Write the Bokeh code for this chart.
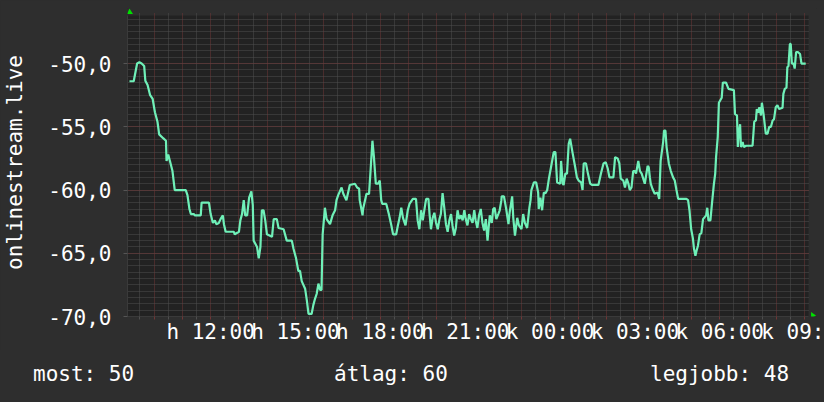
from bokeh.plotting import figure
from bokeh.layouts import column
from bokeh.models import (Range1d, FixedTicker, PolyAnnotation, BoxAnnotation,
                          GlobalInlineStyleSheet, ColumnDataSource, Div)
from bokeh.embed import file_html
from bokeh.resources import INLINE

# ---- data (hours since Monday 00:00, signal level) ----
hours = [9.13, 9.28, 9.40, 9.48, 9.56, 9.65, 9.69, 9.77, 9.86, 9.95,
         10.03, 10.12, 10.18, 10.32, 10.42, 10.44, 10.50, 10.56, 10.65, 10.73,
         11.12, 11.18, 11.25, 11.30, 11.41, 11.44, 11.65, 11.68, 11.94, 12.00,
         12.08, 12.15, 12.20, 12.29, 12.35, 12.43, 12.47, 12.53, 12.82, 12.85,
         13.00, 13.05, 13.11, 13.17, 13.22, 13.29, 13.36, 13.44, 13.49, 13.52,
         13.64, 13.70, 13.76, 13.81, 13.87, 13.93, 13.99, 14.17, 14.23, 14.34,
         14.40, 14.58, 14.69, 14.87, 14.93, 15.02, 15.10, 15.16, 15.22, 15.34,
         15.40, 15.46, 15.57, 15.63, 15.69, 15.75, 15.81, 15.87, 15.92, 15.96,
         16.04, 16.10, 16.22, 16.31, 16.40, 16.45, 16.51, 16.63, 16.69, 16.80,
         16.92, 17.10, 17.18, 17.25, 17.27, 17.37, 17.39, 17.51, 17.60, 17.65,
         17.72, 17.77, 17.84, 17.92, 17.98, 18.03, 18.07, 18.21, 18.30, 18.39,
         18.45, 18.56, 18.62, 18.68, 18.74, 18.80, 18.89, 18.97, 19.03, 19.15,
         19.26, 19.32, 19.38, 19.44, 19.50, 19.59, 19.62, 19.70, 19.74, 19.79,
         19.85, 19.91, 19.97, 20.03, 20.09, 20.14, 20.20, 20.26, 20.32, 20.38,
         20.44, 20.50, 20.55, 20.61, 20.67, 20.73, 20.79, 20.85, 20.91, 20.97,
         21.02, 21.08, 21.14, 21.20, 21.26, 21.32, 21.37, 21.43, 21.49, 21.55,
         21.61, 21.67, 21.73, 21.79, 21.82, 21.87, 21.94, 21.99, 22.04, 22.10,
         22.17, 22.22, 22.28, 22.29, 22.37, 22.45, 22.53, 22.57, 22.64, 22.66,
         22.70, 22.76, 22.84, 22.90, 22.99, 23.05, 23.11, 23.19, 23.27, 23.31,
         23.34, 23.43, 23.51, 23.58, 23.60, 23.66, 23.72, 23.78, 23.84, 23.90,
         23.96, 24.05, 24.13, 24.19, 24.25, 24.36, 24.39, 24.45, 24.48, 24.54,
         24.60, 24.66, 24.71, 24.80, 24.89, 24.95, 25.01, 25.10, 25.15, 25.19,
         25.27, 25.34, 25.42, 25.48, 25.71, 25.80, 25.89, 25.97, 26.04, 26.10,
         26.24, 26.30, 26.39, 26.45, 26.50, 26.59, 26.65, 26.71, 26.77, 26.82,
         26.88, 26.94, 27.00, 27.04, 27.12, 27.18, 27.24, 27.35, 27.45, 27.49,
         27.53, 27.56, 27.62, 27.70, 27.80, 27.86, 27.91, 28.00, 28.03, 28.08,
         28.12, 28.20, 28.27, 28.35, 28.41, 28.47, 28.53, 28.82, 28.88, 28.93,
         28.99, 29.05, 29.09, 29.14, 29.18, 29.23, 29.29, 29.35, 29.41, 29.52,
         29.56, 29.60, 29.67, 29.72, 29.79, 29.84, 29.87, 29.93, 29.97, 30.02,
         30.07, 30.11, 30.22, 30.31, 30.50, 30.54, 30.61, 30.64, 30.67, 30.72,
         30.75, 30.81, 30.85, 30.93, 31.16, 31.22, 31.28, 31.31, 31.36, 31.40,
         31.46, 31.49, 31.55, 31.60, 31.63, 31.69, 31.75, 31.81, 31.87, 31.92,
         31.98, 32.04, 32.10, 32.22, 32.25, 32.30, 32.36, 32.39, 32.43, 32.48,
         32.51, 32.55, 32.61, 32.65, 32.70, 32.77, 32.84, 32.89, 33.04]

levels = [-51.4, -51.4, -50.0, -49.9, -50.0, -50.2, -51.35, -51.7, -52.5, -52.8,
          -53.85, -54.6, -55.6, -55.9, -56.1, -57.7, -57.2, -57.7, -58.5, -60.0,
          -60.0, -60.4, -61.5, -61.9, -61.9, -62.0, -62.0, -61.0, -61.0, -61.9,
          -62.6, -62.4, -62.7, -62.6, -62.3, -62.0, -62.7, -63.3, -63.3, -63.5,
          -63.3, -62.4, -61.9, -60.8, -62.0, -62.0, -60.6, -60.1, -61.2, -64.0,
          -64.5, -65.4, -64.5, -61.6, -61.6, -62.4, -63.5, -63.7, -62.3, -62.3,
          -63.0, -63.1, -64.0, -64.0, -64.65, -65.4, -66.4, -66.4, -67.2, -67.8,
          -68.7, -69.8, -69.8, -69.1, -68.6, -68.2, -67.4, -67.9, -67.9, -63.5,
          -61.4, -62.3, -62.7, -62.0, -61.6, -60.8, -60.4, -59.8, -60.3, -60.8,
          -59.6, -59.5, -59.8, -59.9, -60.8, -62.0, -61.5, -60.3, -60.3, -58.6,
          -56.1, -57.3, -59.5, -59.5, -59.25, -60.8, -61.1, -61.1, -61.9, -62.8,
          -63.5, -63.5, -62.8, -62.2, -61.4, -62.2, -62.8, -61.6, -61.1, -60.7,
          -60.7, -62.4, -63.1, -61.6, -62.4, -61.1, -60.7, -60.7, -61.9, -63.1,
          -62.2, -61.8, -62.6, -63.1, -62.3, -61.9, -60.25, -61.4, -62.7, -63.3,
          -62.4, -61.9, -62.8, -63.6, -63.0, -61.6, -62.3, -62.0, -62.4, -61.6,
          -62.3, -62.8, -61.9, -62.3, -62.6, -61.6, -62.4, -63.0, -62.0, -61.5,
          -62.6, -63.2, -62.3, -64.0, -63.2, -62.0, -62.6, -61.5, -61.4, -62.3,
          -61.9, -61.6, -60.8, -60.5, -60.5, -61.5, -62.7, -61.8, -60.8, -60.5,
          -62.2, -63.6, -62.2, -62.8, -63.1, -61.9, -62.6, -63.0, -61.4, -60.8,
          -60.0, -59.4, -59.4, -60.2, -61.5, -60.6, -61.6, -60.2, -60.25, -60.0,
          -59.1, -58.0, -57.0, -57.0, -59.4, -59.5, -57.7, -59.5, -59.6, -58.7,
          -58.7, -56.35, -55.95, -57.1, -58.2, -59.0, -59.25, -59.4, -60.0, -57.9,
          -57.9, -58.7, -59.5, -59.6, -59.6, -58.7, -57.9, -57.8, -58.3, -59.0,
          -59.0, -57.4, -57.5, -57.9, -59.1, -59.25, -59.8, -59.1, -59.5, -60.0,
          -59.8, -58.5, -58.5, -58.7, -57.7, -58.5, -58.7, -59.5, -58.1, -58.2,
          -59.0, -59.5, -59.9, -60.3, -60.2, -60.7, -57.7, -56.2, -55.3, -55.3,
          -56.6, -57.9, -58.5, -59.0, -59.25, -60.0, -60.7, -60.7, -60.8, -61.6,
          -63.1, -63.8, -64.65, -65.2, -64.8, -64.4, -63.5, -63.4, -62.3, -62.0,
          -61.4, -62.4, -62.4, -61.2, -59.6, -58.7, -57.4, -55.8, -53.1, -52.9,
          -52.7, -51.5, -51.5, -52.0, -52.1, -54.0, -54.1, -56.6, -55.55, -54.8,
          -56.6, -56.2, -56.6, -56.5, -56.5, -54.6, -54.5, -53.6, -53.9, -53.45,
          -54.1, -53.1, -54.0, -55.0, -55.55, -55.55, -55.0, -55.0, -54.5, -54.4,
          -53.45, -53.3, -53.6, -53.5, -52.4, -52.0, -51.9, -50.3, -50.2, -48.45,
          -48.45, -50.0, -50.0, -50.4, -49.1, -49.1, -49.25, -50.0, -50.0]

hour_ticks = list(range(10, 34))
half_hour_ticks = [h + 0.5 for h in range(9, 33)]
x_label_ticks = [12, 15, 18, 21, 24, 27, 30, 33]
x_labels = ["h 12:00", "h 15:00", "h 18:00", "h 21:00",
            "k 00:00", "k 03:00", "k 06:00", "k 09:"]
y_ticks = [-70, -65, -60, -55, -50]
y_labels = ["-70,0", "-65,0", "-60,0", "-55,0", "-50,0"]
y_minor = [-70 + 0.5 * i for i in range(48)]
y_title = "onlinestream.live"
summary = ["most: 50", "átlag: 60", "legjobb: 48"]

# time / value window of the graph canvas
T0, T1 = 9.06, 33.14
V0, V1 = -70.0, -46.2

BG = "#2e2e2e"
CANVAS = "#222222"
FONT = "DejaVu Sans Mono"
LINE = "#6ff0b8"
RED = "#703636"
GRAY = "#4f4f4f"
ARROW = "#00e000"

hpp = (T1 - T0) / 685.0
vpp = (V1 - V0) / 301.0
p = figure(width=824, height=350, output_backend="svg", toolbar_location=None,
           x_range=Range1d(T0, T1 + 8 * hpp), y_range=Range1d(V0, V1 + 7 * vpp),
           background_fill_color=BG, border_fill_color=BG,
           min_border_left=123, min_border_right=8, min_border_top=8,
           min_border_bottom=34)
p.outline_line_color = None
p.stylesheets = [GlobalInlineStyleSheet(
    css="html, body { margin: 0; padding: 0; overflow: hidden; background-color: %s; }" % BG)]

p.add_layout(BoxAnnotation(left=T0, right=T1, bottom=V0, top=V1, fill_color=CANVAS,
                           fill_alpha=1, line_color=None, level="image"))

# grids
p.xgrid.ticker = FixedTicker(ticks=hour_ticks, minor_ticks=half_hour_ticks)
p.ygrid.ticker = FixedTicker(ticks=y_ticks, minor_ticks=y_minor)
for g in (p.xgrid, p.ygrid):
    g.grid_line_color = RED
    g.grid_line_dash = "1 1"
    g.minor_grid_line_color = GRAY
    g.minor_grid_line_dash = "1 1"
try:
    p.xgrid.cross_bounds = (V0, V1 + 2 * vpp)
    p.ygrid.cross_bounds = (T0, T1)
except AttributeError:
    pass

# x axis
xa = p.xaxis[0]
xa.ticker = FixedTicker(ticks=hour_ticks, minor_ticks=half_hour_ticks)
ov = {h: "" for h in hour_ticks}
for t, l in zip(x_label_ticks, x_labels):
    ov[t] = l
xa.major_label_overrides = ov
xa.bounds = (T0, T1)
xa.axis_line_color = "#3a3a3a"
xa.major_tick_line_color = RED
xa.minor_tick_line_color = GRAY
xa.major_tick_in = 0
xa.minor_tick_in = 0
xa.major_tick_out = 3
xa.minor_tick_out = 3
xa.major_label_standoff = 0
xa.major_label_text_font = FONT
xa.major_label_text_font_size = "21px"
xa.major_label_text_color = "#ffffff"

# y axis
ya = p.yaxis[0]
ya.ticker = FixedTicker(ticks=y_ticks, minor_ticks=[])
ya.major_label_overrides = {t: l for t, l in zip(y_ticks, y_labels)}
ya.bounds = (V0, V1)
ya.axis_line_color = "#3a3a3a"
ya.major_tick_line_color = "#555555"
ya.major_tick_in = 0
ya.major_tick_out = 4
ya.minor_tick_line_color = None
ya.major_label_standoff = 12
ya.major_label_text_font = FONT
ya.major_label_text_font_size = "21px"
ya.major_label_text_color = "#ffffff"
ya.axis_label = y_title
ya.axis_label_text_font = FONT
ya.axis_label_text_font_size = "21px"
ya.axis_label_text_font_style = "normal"
ya.axis_label_text_color = "#ffffff"
ya.axis_label_standoff = 18

src = ColumnDataSource(dict(x=hours, y=levels))
p.line("x", "y", source=src, line_color=LINE, line_width=2.2)

# axis arrows
p.add_layout(PolyAnnotation(xs=[T0 + 2 * hpp, T0 - 0.5 * hpp, T0 + 5.5 * hpp],
                            ys=[V1 + 7 * vpp, V1 + 1.5 * vpp, V1 + 1.5 * vpp],
                            fill_color=ARROW, fill_alpha=1, line_color=None))
p.add_layout(PolyAnnotation(xs=[T1 + 7.5 * hpp, T1 + 2.5 * hpp, T1 + 2.5 * hpp],
                            ys=[V0 + 1 * vpp, V0 + 4.5 * vpp, V0 - 2.5 * vpp],
                            fill_color=ARROW, fill_alpha=1, line_color=None))

# summary line below the graph
lefts = [33, 334, 650]
spans = "".join(
    '<span style="position:absolute;left:%dpx;top:14px;white-space:pre;">%s</span>' % (lx, t)
    for lx, t in zip(lefts, summary))
summary_div = Div(
    text=('<div style="position:relative;width:824px;height:52px;'
          'font-family:\'DejaVu Sans Mono\';font-size:21px;line-height:21px;'
          'color:#ffffff;">%s</div>' % spans),
    width=824, height=52, styles={"margin": "0", "padding": "0"})

open("out.html", "w").write(file_html(column(p, summary_div, spacing=0), INLINE))
